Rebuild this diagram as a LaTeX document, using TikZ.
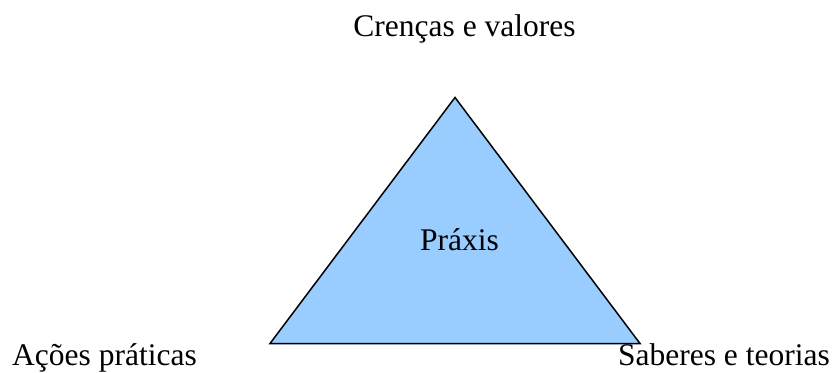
\documentclass[tikz,border=0pt]{standalone}
\usepackage{fontspec}
\setmainfont{Liberation Serif}
\definecolor{praxisblue}{HTML}{99CCFF}
\begin{document}
\begin{tikzpicture}[x=1pt,y=1pt,
  lbl/.style={inner sep=0pt,anchor=base,font=\fontsize{31.5}{36}\selectfont}]
\useasboundingbox (0,0) rectangle (832,372);
\coordinate (top) at (455,274.5);
\coordinate (bl) at (270,28.5);
\coordinate (br) at (640,28.5);
\filldraw[fill=praxisblue,draw=black,line width=1.5pt,line join=miter] (top) -- (bl) -- (br) -- cycle;
\node[lbl] (cv) at (464.5,335) {Crenças e valores};
\node[lbl] (px) at (459.5,121) {Práxis};
\node[lbl,anchor=base west] (ap) at (12,7) {Ações práticas};
\node[lbl,anchor=base east] (st) at (830,7) {Saberes e teorias};
\end{tikzpicture}
\end{document}
